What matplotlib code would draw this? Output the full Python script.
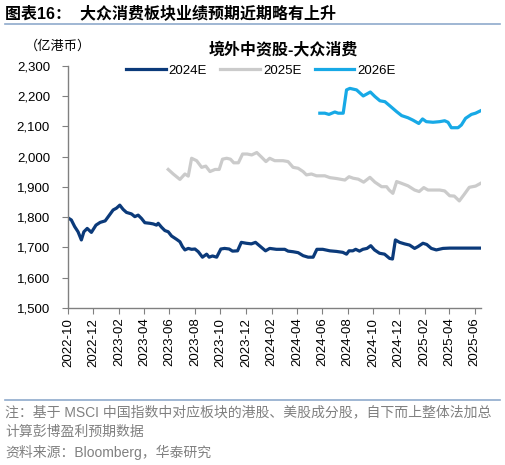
import pandas as pd
import matplotlib
matplotlib.use("Agg")
import matplotlib.pyplot as plt
import matplotlib.dates as mdates
from matplotlib.lines import Line2D

plt.rcParams['font.family'] = ['Liberation Sans', 'Noto Sans CJK SC', 'DejaVu Sans']

# --- data (亿港币) ---
dates_2024e = ['2022-10-01', '2022-10-09', '2022-10-17', '2022-10-25', '2022-11-02', '2022-11-08',
               '2022-11-16', '2022-11-26', '2022-12-07', '2022-12-17', '2022-12-29', '2023-01-07',
               '2023-01-17', '2023-01-25', '2023-02-02', '2023-02-10', '2023-02-18', '2023-03-02',
               '2023-03-10', '2023-03-18', '2023-03-26', '2023-04-03', '2023-04-15', '2023-04-23',
               '2023-05-01', '2023-05-05', '2023-05-13', '2023-05-21', '2023-05-29', '2023-06-06',
               '2023-06-18', '2023-06-26', '2023-07-02', '2023-07-08', '2023-07-16', '2023-07-24',
               '2023-08-01', '2023-08-09', '2023-08-19', '2023-08-29', '2023-09-04', '2023-09-12',
               '2023-09-22', '2023-10-02', '2023-10-11', '2023-10-22', '2023-10-30', '2023-11-11',
               '2023-11-20', '2023-12-02', '2023-12-14', '2023-12-24', '2024-01-05', '2024-01-17',
               '2024-01-27', '2024-02-12', '2024-03-03', '2024-03-11', '2024-03-23', '2024-04-04',
               '2024-04-16', '2024-04-28', '2024-05-10', '2024-05-19', '2024-06-02', '2024-06-19',
               '2024-07-05', '2024-07-20', '2024-07-29', '2024-08-04', '2024-08-13', '2024-08-20',
               '2024-08-29', '2024-09-06', '2024-09-16', '2024-09-25', '2024-10-04', '2024-10-16',
               '2024-10-28', '2024-11-09', '2024-11-16', '2024-11-23', '2024-12-03', '2024-12-15',
               '2024-12-27', '2025-01-08', '2025-01-16', '2025-01-28', '2025-02-06', '2025-02-17',
               '2025-03-01', '2025-03-17', '2025-04-02', '2025-05-04', '2025-06-17']
values_2024e = [1798, 1791, 1769, 1752, 1725, 1752, 1763, 1750, 1774, 1783, 1788, 1805,
                1824, 1830, 1840, 1826, 1816, 1811, 1802, 1807, 1796, 1782, 1780, 1778,
                1774, 1780, 1767, 1756, 1752, 1738, 1727, 1719, 1703, 1692, 1697, 1694,
                1695, 1686, 1668, 1678, 1668, 1672, 1668, 1695, 1697, 1695, 1688, 1689,
                1717, 1714, 1712, 1717, 1703, 1689, 1697, 1694, 1694, 1688, 1686, 1683,
                1673, 1668, 1668, 1694, 1694, 1689, 1687, 1684, 1678, 1689, 1689, 1694,
                1688, 1694, 1697, 1706, 1692, 1681, 1678, 1664, 1662, 1725, 1717, 1712,
                1708, 1697, 1703, 1714, 1710, 1697, 1692, 1697, 1698, 1698, 1698]

dates_2025e = ['2023-05-29', '2023-06-10', '2023-06-26', '2023-07-08', '2023-07-16', '2023-07-24',
               '2023-08-05', '2023-08-17', '2023-08-27', '2023-09-06', '2023-09-18', '2023-09-28',
               '2023-10-06', '2023-10-16', '2023-10-25', '2023-11-02', '2023-11-13', '2023-11-23',
               '2023-12-04', '2023-12-15', '2023-12-27', '2024-01-08', '2024-01-18', '2024-01-27',
               '2024-02-08', '2024-02-28', '2024-03-11', '2024-03-23', '2024-04-04', '2024-04-16',
               '2024-04-24', '2024-05-06', '2024-05-18', '2024-05-26', '2024-06-07', '2024-06-19',
               '2024-07-05', '2024-07-25', '2024-08-04', '2024-08-14', '2024-08-26', '2024-09-08',
               '2024-09-23', '2024-10-05', '2024-10-21', '2024-11-02', '2024-11-08', '2024-11-17',
               '2024-11-26', '2024-12-08', '2024-12-23', '2025-01-08', '2025-01-19', '2025-01-30',
               '2025-02-09', '2025-02-25', '2025-03-09', '2025-03-21', '2025-04-02', '2025-04-13',
               '2025-04-25', '2025-05-07', '2025-05-19', '2025-06-03', '2025-06-15']
values_2025e = [1958, 1943, 1925, 1943, 1936, 1995, 1987, 1965, 1969, 1951, 1958, 1958,
                1992, 1995, 1992, 1980, 1980, 2009, 2009, 2006, 2014, 1998, 1984, 1995,
                1987, 1987, 1984, 1965, 1962, 1951, 1940, 1943, 1937, 1937, 1937, 1931,
                1928, 1923, 1934, 1929, 1926, 1916, 1932, 1916, 1901, 1901, 1890, 1879,
                1918, 1912, 1904, 1890, 1885, 1898, 1890, 1890, 1890, 1887, 1871, 1870,
                1854, 1876, 1899, 1903, 1912]

dates_2026e = ['2024-05-26', '2024-06-07', '2024-06-17', '2024-07-01', '2024-07-09', '2024-07-21',
               '2024-07-29', '2024-08-06', '2024-08-22', '2024-09-07', '2024-09-15', '2024-09-24',
               '2024-10-05', '2024-10-17', '2024-10-29', '2024-11-10', '2024-11-26', '2024-12-08',
               '2024-12-23', '2025-01-04', '2025-01-18', '2025-01-27', '2025-02-05', '2025-02-21',
               '2025-03-09', '2025-03-21', '2025-03-29', '2025-04-06', '2025-04-22', '2025-04-30',
               '2025-05-10', '2025-05-24', '2025-06-03', '2025-06-15']
values_2026e = [2144, 2144, 2140, 2148, 2144, 2144, 2221, 2226, 2221, 2201, 2207, 2214,
                2199, 2185, 2182, 2168, 2149, 2136, 2129, 2121, 2110, 2125, 2116, 2114,
                2116, 2119, 2114, 2096, 2096, 2105, 2127, 2140, 2144, 2152]

series_names = ['2024E', '2025E', '2026E']
series_colors = ['#0B3A7A', '#CBCBCB', '#17A9E6']

W, H = 505, 465
fig = plt.figure(figsize=(W / 100, H / 100), dpi=100)

def fx(px):
    return px / W

def fy(py):
    return 1 - py / H

ax = fig.add_axes([fx(68), fy(308), fx(481) - fx(68), fy(66) - fy(308)])

all_dates = [dates_2024e, dates_2025e, dates_2026e]
all_values = [values_2024e, values_2025e, values_2026e]
for name, color, d, v in zip(series_names, series_colors, all_dates, all_values):
    ax.plot(pd.to_datetime(d), v, color=color, linewidth=2.3, label=name)

ax.set_ylim(1500, 2300)
ax.set_yticks(range(1500, 2301, 100))
ax.yaxis.set_major_formatter(matplotlib.ticker.FuncFormatter(lambda v, p: f'{int(v):,}'))
ax.set_xlim(pd.Timestamp('2022-10-01'), pd.Timestamp('2025-06-16'))
ax.xaxis.set_major_locator(mdates.MonthLocator(bymonth=[2, 4, 6, 8, 10, 12]))
ax.xaxis.set_major_formatter(mdates.DateFormatter('%Y-%m'))
ax.tick_params(axis='x', rotation=90, labelsize=9.5, length=4, color='#808080', pad=3)
ax.tick_params(axis='y', labelsize=9.5, length=4, color='#808080', pad=9)

for s in ['top', 'right']:
    ax.spines[s].set_visible(False)
for s in ['left', 'bottom']:
    ax.spines[s].set_color('#808080')
    ax.spines[s].set_linewidth(1.0)

fig.legend(loc='center', bbox_to_anchor=(fx(261), fy(71)), ncol=3, frameon=False,
           fontsize=9.5, handlelength=3.0, handletextpad=0.25, columnspacing=1.0)

# titles and notes
fig.text(fx(5), fy(14), '图表16：  大众消费板块业绩预期近期略有上升', fontsize=11.5,
         fontweight='bold', va='center', ha='left')
fig.add_artist(Line2D([fx(5), fx(500)], [fy(24), fy(24)], color='#8FAACC', linewidth=1.2))
fig.text(fx(25), fy(46), '（亿港币）', fontsize=9.5, va='center', ha='left')
fig.text(fx(283), fy(50), '境外中资股-大众消费', fontsize=11.5, fontweight='bold',
         va='center', ha='center')

fig.add_artist(Line2D([fx(5), fx(500)], [fy(400), fy(400)], color='#8FAACC', linewidth=1.2))
note_color = '#808080'
fig.text(fx(5), fy(412), '注：基于 MSCI 中国指数中对应板块的港股、美股成分股，自下而上整体法加总',
         fontsize=10, color=note_color, va='center', ha='left')
fig.text(fx(5), fy(432), '计算彭博盈利预期数据', fontsize=10, color=note_color, va='center', ha='left')
fig.text(fx(5), fy(452), '资料来源：Bloomberg，华泰研究', fontsize=10, color=note_color,
         va='center', ha='left')

fig.savefig('out.png', dpi=100)
